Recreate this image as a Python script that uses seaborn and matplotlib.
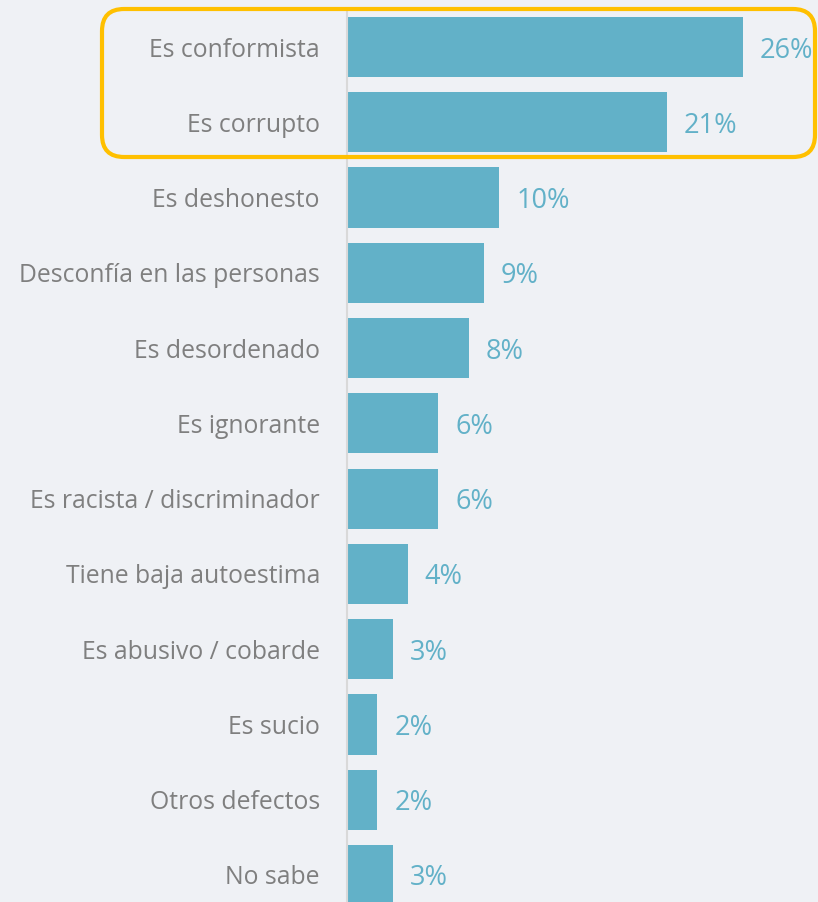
import numpy as np
import pandas as pd
import seaborn as sns
import matplotlib.pyplot as plt
from matplotlib.patches import FancyBboxPatch

categorias = ["Es conformista", "Es corrupto", "Es deshonesto", "Desconfía en las personas",
              "Es desordenado", "Es ignorante", "Es racista / discriminador", "Tiene baja autoestima",
              "Es abusivo / cobarde", "Es sucio", "Otros defectos", "No sabe"]
valores = [26, 21, 10, 9, 8, 6, 6, 4, 3, 2, 2, 3]
etiquetas = [f"{v}%" for v in valores]

fondo = "#eff1f5"
azul = "#62b1c8"

sns.set_style("white")
plt.rcParams['font.family'] = ['Open Sans', 'DejaVu Sans']

df = pd.DataFrame({"categoria": categorias, "valor": valores})

fig = plt.figure(figsize=(8.18, 9.02), dpi=100, facecolor=fondo)
ax = fig.add_axes([347 / 818, -10.6 / 902, 457 / 818, 903.2 / 902])
ax.set_facecolor(fondo)

sns.barplot(data=df, x="valor", y="categoria", color=azul, saturation=1, width=0.8,
            linewidth=0, ax=ax)

ax.set_xlim(0, 30)
ax.set_ylim(11.5, -0.5)
ax.set_xlabel("")
ax.set_ylabel("")
ax.set_xticks([])
ax.tick_params(axis="y", length=0, pad=19.5, labelsize=17.8, labelcolor="#7f7f7f")
for s in ["top", "right", "bottom"]:
    ax.spines[s].set_visible(False)
ax.spines["left"].set_color("#d9d9d9")
ax.spines["left"].set_linewidth(1.5)

for i, (v, t) in enumerate(zip(valores, etiquetas)):
    ax.text(v + 1.1, i, t, va="center_baseline", ha="left", fontsize=19.5, color=azul)

# recuadro amarillo alrededor de las dos primeras categorías
fig.patches.append(FancyBboxPatch((102 / 818, 1 - 157 / 902), 713 / 818, 148 / 902,
                                  boxstyle="round,pad=0,rounding_size=0.027",
                                  transform=fig.transFigure, fill=False,
                                  edgecolor="#ffc000", linewidth=3, mutation_aspect=818 / 902))

fig.savefig("out.png", dpi=100, facecolor=fondo)
